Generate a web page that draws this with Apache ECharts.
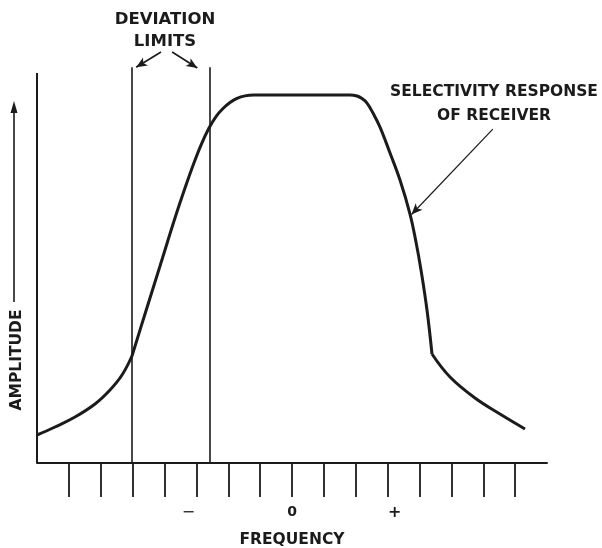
<!DOCTYPE html>
<html>
<head>
<meta charset="utf-8">
<script src="https://cdn.jsdelivr.net/npm/echarts@6/dist/echarts.min.js"></script>
<style>
  html, body { margin: 0; padding: 0; background: #fff; }
  #chart { width: 602px; height: 548px; }
</style>
</head>
<body>
<div id="chart"></div>
<script>
// Frequency scale: ticks either side of the carrier, three of them labelled
const tickValues = [-7, -6, -5, -4, -3, -2, -1, 0, 1, 2, 3, 4, 5, 6, 7];
const labelValues = [-3, 0, 3];
const labelTexts = ['−', '0', '+'];

// Selectivity response of the receiver (frequency, relative amplitude),
// split where the slope breaks on each skirt
const skirtLow = [[-8, 7.18], [-7.435, 9.23], [-6.808, 11.79], [-6.18, 15.13], [-5.71, 18.72],
                  [-5.333, 22.56], [-5.02, 27.44]];
const passband = [[-5.02, 27.44], [-4.612, 38.21], [-4.141, 50.51], [-3.671, 62.82], [-3.357, 70.51],
                  [-3.106, 76.28], [-2.855, 81.54], [-2.604, 85.9], [-2.384, 88.85], [-2.165, 90.9],
                  [-1.945, 92.44], [-1.725, 93.51], [-1.475, 94.15], [-1.192, 94.36],
                  [1.82, 94.36], [2.039, 94.1], [2.196, 93.46], [2.353, 92.31], [2.541, 89.74],
                  [2.761, 86.15], [3.075, 79.49], [3.388, 72.56], [3.702, 63.85], [3.89, 56.67],
                  [4.047, 49.49], [4.235, 39.23], [4.392, 27.95]];
const skirtHigh = [[4.392, 27.95], [4.957, 22.05], [5.741, 16.67], [6.525, 12.56], [7.31, 8.72]];

// Frequency deviation limits of the signal
const deviationLimits = [-5.02, -2.57];

const INK = '#1b1b1b';
const FONT = '"DejaVu Sans", "Liberation Sans", sans-serif';

const chart = echarts.init(document.getElementById('chart'), null, { renderer: 'canvas' });

function curve(data, extra) {
  return Object.assign({
    type: 'line',
    data: data,
    smooth: 0.4,
    symbol: 'none',
    clip: false,
    silent: true,
    z: 3,
    lineStyle: { color: INK, width: 3 },
    emphasis: { disabled: true }
  }, extra || {});
}

const plainLine = {
  silent: true,
  label: { show: false },
  emphasis: { disabled: true }
};

const option = {
  animation: false,
  backgroundColor: '#ffffff',
  grid: { left: 37, right: 55, top: 52, bottom: 85, outerBoundsMode: 'none', containLabel: false },
  xAxis: {
    type: 'value',
    min: -8,
    max: 8,
    name: 'FREQUENCY',
    nameLocation: 'middle',
    nameGap: 69,
    nameTextStyle: { fontFamily: FONT, fontSize: 15.5, fontWeight: 'bold', color: INK },
    axisLine: { show: true, onZero: false, lineStyle: { color: INK, width: 2 } },
    axisTick: { show: true, inside: false, length: 34, customValues: tickValues,
                lineStyle: { color: INK, width: 1.8 } },
    axisLabel: {
      show: true,
      customValues: labelValues,
      margin: 42,
      fontFamily: FONT,
      fontSize: 14,
      color: INK,
      formatter: function (v) {
        const i = labelValues.indexOf(v);
        const key = i === 0 ? 'lo' : (i === 2 ? 'hi' : 'mid');
        return '{' + key + '|' + labelTexts[i] + '}';
      },
      rich: {
        lo: { fontFamily: FONT, fontSize: 16, color: INK, padding: [0, 16, 0, 0] },
        mid: { fontFamily: FONT, fontSize: 14, fontWeight: 'bold', color: INK },
        hi: { fontFamily: FONT, fontSize: 16, fontWeight: 'bold', color: INK, padding: [0, 0, 0, 14] }
      }
    },
    splitLine: { show: false }
  },
  yAxis: {
    type: 'value',
    min: 0,
    max: 105.4,
    axisLine: { show: false },
    axisTick: { show: false },
    axisLabel: { show: false },
    splitLine: { show: false }
  },
  series: [
    curve(skirtLow, {
      markLine: Object.assign({}, plainLine, {
        symbol: ['none', 'none'],
        lineStyle: { color: INK, width: 1.6, type: 'solid' },
        data: [
          // amplitude axis
          [{ coord: [-8, 0], lineStyle: { width: 2 } }, { coord: [-8, 100] }]
        ].concat(deviationLimits.map(function (f) {
          return [{ coord: [f, 0] }, { coord: [f, 101.5] }];
        }))
      })
    }),
    curve(passband),
    curve(skirtHigh, {
      markLine: Object.assign({}, plainLine, {
        symbol: ['none', 'arrow'],
        symbolSize: [7, 11],
        lineStyle: { color: INK, width: 1.6, type: 'solid' },
        data: [
          [{ coord: [-4.11, 105.4] }, { coord: [-4.89, 101.5] }],
          [{ coord: [-3.76, 105.4] }, { coord: [-2.97, 101.3] }],
          [{ coord: [6.3, 85.6], lineStyle: { width: 1.2 } }, { coord: [3.749, 63.72] }]
        ]
      })
    })
  ],
  graphic: [
    {
      type: 'text',
      silent: true,
      style: {
        text: 'DEVIATION\nLIMITS',
        x: 165, y: 31,
        align: 'center', verticalAlign: 'middle',
        lineHeight: 22,
        font: 'bold 16.5px ' + FONT,
        fill: INK
      }
    },
    {
      type: 'text',
      silent: true,
      style: {
        text: 'SELECTIVITY RESPONSE\nOF RECEIVER',
        x: 494, y: 104,
        align: 'center', verticalAlign: 'middle',
        lineHeight: 24,
        font: 'bold 15.5px ' + FONT,
        fill: INK
      }
    },
    {
      type: 'text',
      silent: true,
      x: 17, y: 360,
      rotation: Math.PI / 2,
      style: {
        text: 'AMPLITUDE',
        x: 0, y: 0,
        align: 'center', verticalAlign: 'middle',
        font: 'bold 15.5px ' + FONT,
        fill: INK
      }
    },
    {
      type: 'line',
      silent: true,
      shape: { x1: 14, y1: 302, x2: 14, y2: 110 },
      style: { stroke: INK, lineWidth: 1.6 }
    },
    {
      type: 'polygon',
      silent: true,
      shape: { points: [[14, 101], [10.5, 113], [17.5, 113]] },
      style: { fill: INK }
    }
  ]
};

chart.setOption(option);
</script>
</body>
</html>
